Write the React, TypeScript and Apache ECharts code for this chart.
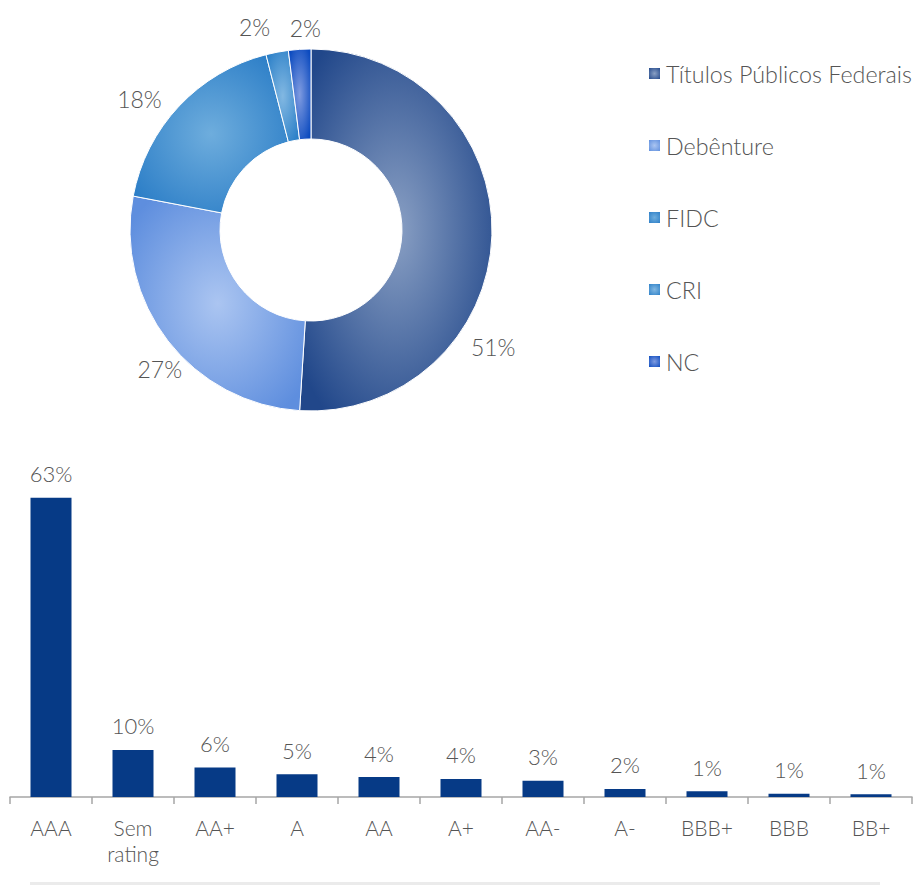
import React, { useEffect, useRef } from "react";
import * as echarts from "echarts";

const PIE_NAMES = ["Títulos Públicos Federais", "Debênture", "FIDC", "CRI", "NC"];
const PIE_VALUES = [51, 27, 18, 2, 2];
const RATING_CATEGORIES = ["AAA", "Sem\nrating", "AA+", "A", "AA", "A+", "AA-", "A-", "BBB+", "BBB", "BB+"];
const RATING_VALUES = [63, 9.9, 6.2, 4.8, 4.2, 3.8, 3.4, 1.7, 1.2, 0.7, 0.6];

const SLICE_COLORS: [string, string][] = [
  ["#8aa0c4", "#21478a"],
  ["#abc5f1", "#5e8ede"],
  ["#6eaddd", "#2c7ec7"],
  ["#82b8e2", "#2c80c8"],
  ["#7f9be0", "#0b4abf"],
];
// label nudges for the donut (px), matching the reference's label placement
const PIE_LABEL_NUDGE: [number, number][] = [
  [-36, 111],
  [27, 22],
  [-5, 0],
  [0, -15],
  [27, -11],
];

const TEXT = "#555555";
const FONT = "Lato, 'Open Sans', sans-serif";
const W = 300;

function radial(c: [string, string]) {
  return new echarts.graphic.RadialGradient(0.5, 0.5, 0.62, [
    { offset: 0, color: c[0] },
    { offset: 1, color: c[1] },
  ]);
}

export default function App() {
  const ref = useRef<HTMLDivElement>(null);
  useEffect(() => {
    if (!ref.current) return;
    const chart = echarts.init(ref.current, undefined, { renderer: "svg" });
    chart.setOption({
      animation: false,
      textStyle: { fontFamily: FONT, fontWeight: W },
      legend: {
        orient: "vertical",
        left: 642,
        top: 57,
        itemWidth: 13,
        itemHeight: 13,
        itemGap: 49,
        icon: "rect",
        data: PIE_NAMES,
        textStyle: { fontSize: 23.3, color: TEXT, fontFamily: FONT, fontWeight: W },
      },
      grid: { left: 10, right: 2, top: 464.5, bottom: 88 },
      xAxis: {
        type: "category",
        data: RATING_CATEGORIES,
        axisLine: { lineStyle: { color: "#a6a6a6", width: 1.5 } },
        axisTick: { show: true, length: 7, lineStyle: { color: "#a6a6a6", width: 1.5 } },
        axisLabel: { fontSize: 21, color: TEXT, margin: 17, lineHeight: 26, interval: 0, fontFamily: FONT, fontWeight: W },
      },
      yAxis: { type: "value", min: 0, max: 70, show: false, splitLine: { show: false } },
      graphic: [
        { type: "rect", shape: { x: 30, y: 882, width: 850, height: 4 }, style: { fill: "#ebebeb" } },
      ],
      series: [
        {
          type: "pie",
          center: [311, 230],
          radius: [91, 181],
          startAngle: 90,
          clockwise: true,
          avoidLabelOverlap: false,
          itemStyle: { borderColor: "#ffffff", borderWidth: 1 },
          label: {
            show: true,
            position: "outside",
            formatter: "{c}%",
            fontSize: 23,
            color: TEXT,
            fontFamily: FONT,
            fontWeight: W,
          },
          labelLine: { show: false, length: 10, length2: 0 },
          labelLayout: (p: any) => ({ dx: PIE_LABEL_NUDGE[p.dataIndex][0], dy: PIE_LABEL_NUDGE[p.dataIndex][1] }),
          data: PIE_NAMES.map((n, i) => ({
            name: n,
            value: PIE_VALUES[i],
            itemStyle: { color: radial(SLICE_COLORS[i]) },
          })),
        },
        {
          type: "bar",
          data: RATING_VALUES,
          barWidth: "50%",
          itemStyle: { color: "#063a86" },
          label: {
            show: true,
            position: "top",
            distance: 13,
            fontSize: 22,
            color: TEXT,
            fontFamily: FONT,
            fontWeight: W,
            formatter: (p: any) => Math.round(p.value) + "%",
          },
        },
      ],
    });
    return () => chart.dispose();
  }, []);
  return (
    <div
      ref={ref}
      style={{ position: "absolute", left: 0, top: 0, width: 914, height: 885, background: "#fff" }}
    />
  );
}
